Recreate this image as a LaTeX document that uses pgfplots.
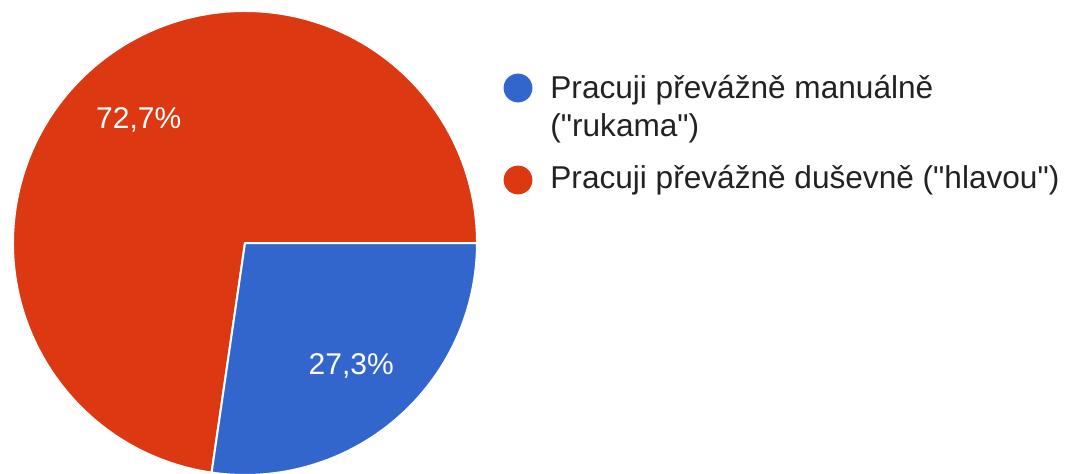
\documentclass[border=0pt]{standalone}
\usepackage{pgfplots}
\pgfplotsset{compat=1.18}
\usepackage{pgfplotstable}
\usepackage{fontspec}
\setmainfont{Liberation Sans}

\definecolor{gblue}{HTML}{3366CC}
\definecolor{gred}{HTML}{DC3912}
\definecolor{legtext}{HTML}{222222}

% shares in percent, in drawing order (clockwise from 3 o'clock)
\pgfplotstableread{
share
27.3
72.7
}\piedata

\begin{document}
\begin{tikzpicture}
\useasboundingbox (0,0) rectangle (536pt,236.5pt);
\clip (0,0) rectangle (536pt,236.5pt);

\pgfplotstablegetelem{0}{share}\of\piedata \let\sA\pgfplotsretval
\pgfplotstablegetelem{1}{share}\of\piedata \let\sB\pgfplotsretval
\pgfmathsetmacro\aEnd{-3.6*\sA}
\pgfmathsetmacro\bEnd{\aEnd-3.6*\sB}
\pgfmathsetmacro\aMid{\aEnd/2}
\pgfmathsetmacro\bMid{(\aEnd+\bEnd)/2}

\begin{axis}[
    x=116pt, y=116pt,
    xmin=-1, xmax=1, ymin=-1, ymax=1,
    hide axis, clip=false,
    anchor=origin, at={(122.5pt,115pt)},
  ]
  % slices
  \filldraw[fill=gred, draw=white, line width=1pt, line join=round]
    (axis cs:0,0) -- ++(\aEnd:116pt) arc[start angle=\aEnd, end angle=\bEnd, radius=116pt] -- cycle;
  \filldraw[fill=gblue, draw=white, line width=1pt, line join=round]
    (axis cs:0,0) -- ++(0:116pt) arc[start angle=0, end angle=\aEnd, radius=116pt] -- cycle;
  % percentage labels
  \path (axis cs:0,0) ++(\aMid:81.2pt) node[white, font=\fontsize{15}{18}\selectfont]
    {\pgfmathprintnumber[fixed, fixed zerofill, precision=1, use comma, assume math mode=true]{\sA}\%};
  \path (axis cs:0,0) ++(\bMid:81.2pt) node[white, font=\fontsize{15}{18}\selectfont]
    {\pgfmathprintnumber[fixed, fixed zerofill, precision=1, use comma, assume math mode=true]{\sB}\%};
\end{axis}

% legend
\begin{scope}[font=\fontsize{15.8}{19}\selectfont, text=legtext]
  \fill[gblue] (259pt,192.5pt) circle[radius=7.2pt];
  \node[anchor=base west, inner sep=0pt] at (275pt,187.5pt) {Pracuji převážně manuálně};
  \node[anchor=base west, inner sep=0pt] at (275pt,168.5pt) {(\textquotedbl rukama\textquotedbl)};
  \fill[gred] (259pt,146.5pt) circle[radius=7.2pt];
  \node[anchor=base west, inner sep=0pt] at (275pt,142.5pt) {Pracuji převážně duševně (\textquotedbl hlavou\textquotedbl)};
\end{scope}
\end{tikzpicture}
\end{document}
